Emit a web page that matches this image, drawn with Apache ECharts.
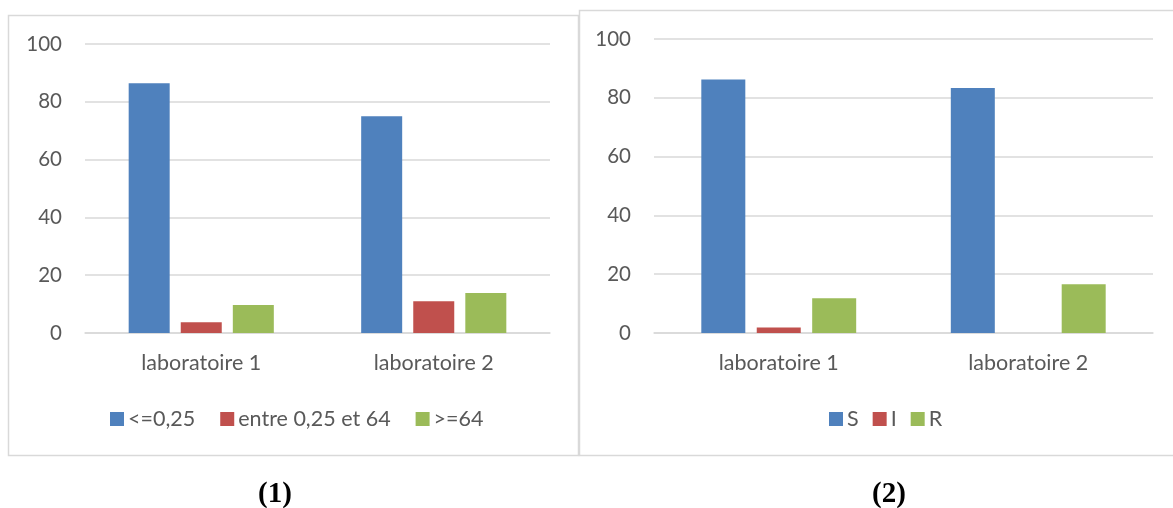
<!DOCTYPE html>
<html>
<head>
<meta charset="utf-8">
<script src="https://cdn.jsdelivr.net/npm/echarts@6/dist/echarts.min.js"></script>
<style>
  html, body { margin: 0; padding: 0; background: #ffffff; }
  #chart { width: 1173px; height: 508px; }
</style>
</head>
<body>
<div id="chart"></div>
<script>
// Shared categories and y-axis ticks
const categories = ['laboratoire 1', 'laboratoire 2'];
const yTicks = [0, 20, 40, 60, 80, 100];

// Panel (1): MIC classes (%)
const micNames = ['<=0,25', 'entre 0,25 et 64', '>=64'];
const micLow = [86.4, 75.0];
const micMid = [3.7, 11.0];
const micHigh = [9.7, 13.8];

// Panel (2): S / I / R (%)
const sirNames = ['S', 'I', 'R'];
const sirS = [86.2, 83.3];
const sirI = [1.9, 0];
const sirR = [11.8, 16.6];

const panelCaptions = ['(1)', '(2)'];

const colors = ['#4f81bd', '#c0504d', '#9bbb59'];
const textColor = '#595959';
const gridColor = '#d9d9d9';
const font = 'Lato';

function valueAxis(gridIndex) {
  return {
    type: 'value', gridIndex,
    min: yTicks[0], max: yTicks[yTicks.length - 1],
    interval: yTicks[1] - yTicks[0],
    axisLine: { show: false }, axisTick: { show: false },
    axisLabel: { color: textColor, fontFamily: font, fontSize: 20.5, margin: 23 },
    splitLine: { lineStyle: { color: gridColor, width: 1.5 } }
  };
}
function categoryAxis(gridIndex) {
  return {
    type: 'category', gridIndex, data: categories,
    axisTick: { show: false },
    axisLine: { lineStyle: { color: gridColor, width: 1.5 } },
    axisLabel: { color: textColor, fontFamily: font, fontSize: 21.5, margin: 19 }
  };
}
function barSeries(name, data, idx, axisIdx, width, gap) {
  return {
    type: 'bar', name, data,
    xAxisIndex: axisIdx, yAxisIndex: axisIdx,
    barWidth: width, barGap: gap,
    itemStyle: { color: colors[idx] },
    emphasis: { disabled: true }
  };
}
function legendBox(names, left, gap) {
  return {
    data: names, left, top: 403, padding: [5, 0, 5, 0], icon: 'rect',
    itemWidth: 14, itemHeight: 14, itemGap: gap,
    textStyle: { color: textColor, fontFamily: font, fontSize: 21.5, padding: [0, 0, 0, -1] }
  };
}

const chart = echarts.init(document.getElementById('chart'), null, { renderer: 'canvas' });
chart.setOption({
  animation: false,
  backgroundColor: '#ffffff',
  color: colors,
  grid: [
    { left: 85, top: 44, width: 465, height: 289 },
    { left: 654, top: 39, width: 499, height: 294 }
  ],
  xAxis: [categoryAxis(0), categoryAxis(1)],
  yAxis: [valueAxis(0), valueAxis(1)],
  legend: [legendBox(micNames, 110, 25), legendBox(sirNames, 829, 14)],
  graphic: [
    { type: 'rect', z: -1, shape: { x: 8.5, y: 15.5, width: 570, height: 440 },
      style: { fill: 'none', stroke: gridColor, lineWidth: 1.5 } },
    { type: 'rect', z: -1, shape: { x: 579.5, y: 10.5, width: 600, height: 445 },
      style: { fill: 'none', stroke: gridColor, lineWidth: 1.5 } },
    { type: 'text', x: 275, y: 495,
      style: { text: panelCaptions[0], fill: '#000', font: 'bold 29px "Liberation Serif"',
               align: 'center', verticalAlign: 'middle' } },
    { type: 'text', x: 889, y: 495,
      style: { text: panelCaptions[1], fill: '#000', font: 'bold 29px "Liberation Serif"',
               align: 'center', verticalAlign: 'middle' } }
  ],
  series: [
    barSeries(micNames[0], micLow, 0, 0, 41, '27%'),
    barSeries(micNames[1], micMid, 1, 0, 41, '27%'),
    barSeries(micNames[2], micHigh, 2, 0, 41, '27%'),
    barSeries(sirNames[0], sirS, 0, 1, 44, '26%'),
    barSeries(sirNames[1], sirI, 1, 1, 44, '26%'),
    barSeries(sirNames[2], sirR, 2, 1, 44, '26%')
  ]
});
</script>
</body>
</html>
